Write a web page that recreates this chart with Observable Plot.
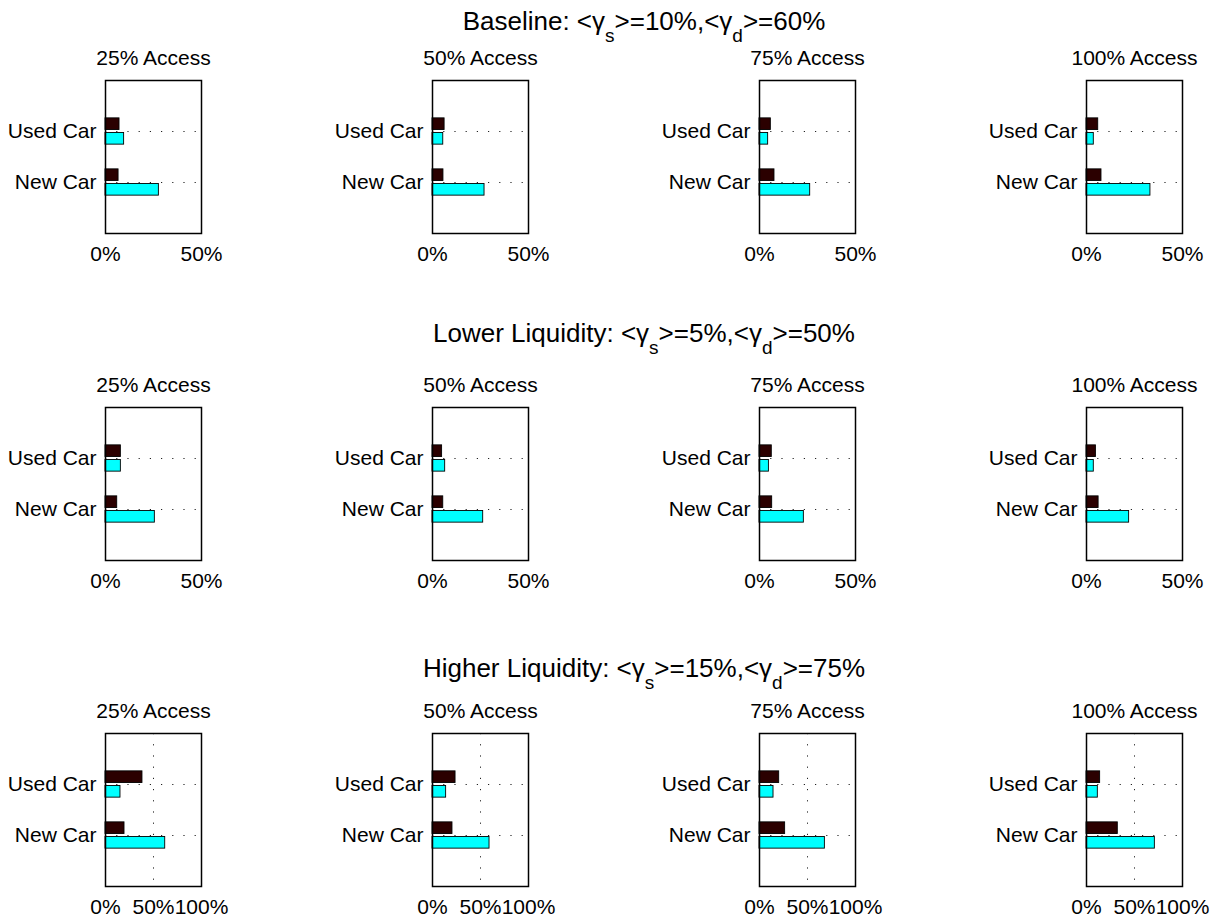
<!DOCTYPE html>
<html><head><meta charset="utf-8">
<script src="https://cdn.jsdelivr.net/npm/d3@7"></script>
<script src="https://cdn.jsdelivr.net/npm/@observablehq/plot@0.6"></script>
<style>
body{margin:0;background:#fff;font-family:"Liberation Sans",Arial,Helvetica,sans-serif;}
#root{position:relative;width:1215px;height:919px;overflow:hidden;background:#fff;}
.panel{position:absolute;}
.rowtitle{position:absolute;left:644px;transform:translateX(-50%);white-space:nowrap;font-size:26px;line-height:26px;color:#000;}
.rowtitle .sub{font-size:19px;position:relative;top:12px;}
</style></head>
<body><div id="root"></div>
<script>
// ---- data ----
const categories = ["New Car", "Used Car"];
const accessLabels = ["25% Access", "50% Access", "75% Access", "100% Access"];
const rowTitles = [
  "Baseline: &lt;γ<span class=sub>s</span>&gt;=10%,&lt;γ<span class=sub>d</span>&gt;=60%",
  "Lower Liquidity: &lt;γ<span class=sub>s</span>&gt;=5%,&lt;γ<span class=sub>d</span>&gt;=50%",
  "Higher Liquidity: &lt;γ<span class=sub>s</span>&gt;=15%,&lt;γ<span class=sub>d</span>&gt;=75%"
];
// values in percent, one entry per access level (25,50,75,100)
const baselineNewDark  = [6.8, 5.7, 7.8, 7.8];
const baselineNewCyan  = [27.8, 27.1, 26.4, 33.3];
const baselineUsedDark = [7.3, 6.3, 5.9, 6.1];
const baselineUsedCyan = [9.7, 5.6, 4.5, 3.8];
const lowerNewDark  = [6.1, 5.6, 6.6, 6.3];
const lowerNewCyan  = [25.7, 26.4, 23.1, 22.2];
const lowerUsedDark = [8.0, 5.0, 6.4, 4.9];
const lowerUsedCyan = [8.0, 6.6, 4.9, 3.8];
const higherNewDark  = [19.8, 20.8, 26.7, 32.6];
const higherNewCyan  = [62.2, 59.4, 68.1, 71.2];
const higherUsedDark = [38.5, 24.0, 20.5, 14.2];
const higherUsedCyan = [15.6, 14.2, 14.6, 11.8];
const xMaxByRow = [0.5, 0.5, 1.0];
const xTicksByRow = [[0, 0.5], [0, 0.5], [0, 0.5, 1]];
const xGridByRow = [[], [], [0.5]];

const rowsData = [
  {newDark: baselineNewDark, newCyan: baselineNewCyan, usedDark: baselineUsedDark, usedCyan: baselineUsedCyan},
  {newDark: lowerNewDark, newCyan: lowerNewCyan, usedDark: lowerUsedDark, usedCyan: lowerUsedCyan},
  {newDark: higherNewDark, newCyan: higherNewCyan, usedDark: higherUsedDark, usedCyan: higherUsedCyan}
];

// ---- layout ----
const boxLefts = [105, 432, 759, 1086];
const boxTops = [80, 407, 733];
const titleTops = [8, 320, 655];
const ML = 100, MR = 30, MT = 35, MB = 40, BW = 96, BH = 153;
const FONT = "Liberation Sans, Arial, Helvetica, sans-serif";
const darkColor = "#2b0000", cyanColor = "#00ffff";
const barH = 0.229, off = 0.143;
const pct = d3.format(".0%");

const root = document.getElementById("root");

rowTitles.forEach((t, r) => {
  const div = document.createElement("div");
  div.className = "rowtitle";
  div.style.top = titleTops[r] + "px";
  div.innerHTML = t;
  root.appendChild(div);
});

for (let r = 0; r < 3; r++) {
  for (let c = 0; c < 4; c++) {
    const rd = rowsData[r];
    const dark = [
      {cat: "New Car", v: rd.newDark[c] / 100},
      {cat: "Used Car", v: rd.usedDark[c] / 100}
    ];
    const cyan = [
      {cat: "New Car", v: rd.newCyan[c] / 100},
      {cat: "Used Car", v: rd.usedCyan[c] / 100}
    ];
    const pos = d => categories.indexOf(d.cat) + 1;
    const chart = Plot.plot({
      width: ML + BW + MR,
      height: MT + BH + MB,
      marginLeft: ML, marginRight: MR, marginTop: MT, marginBottom: MB,
      x: {domain: [0, xMaxByRow[r]]},
      y: {domain: [0, 3]},
      style: {fontFamily: FONT, fontSize: "21px", color: "#000", background: "transparent", overflow: "visible"},
      marks: [
        Plot.gridY([1, 2], {stroke: "#222", strokeOpacity: 1, strokeWidth: 1, strokeDasharray: "1.2,10"}),
        Plot.gridX(xGridByRow[r], {stroke: "#222", strokeOpacity: 1, strokeWidth: 1, strokeDasharray: "1.2,10"}),
        Plot.rect(cyan, {x1: d => 0, x2: "v", y1: d => pos(d) - off - barH / 2, y2: d => pos(d) - off + barH / 2, fill: cyanColor, stroke: "#000", strokeWidth: 0.9}),
        Plot.rect(dark, {x1: d => 0, x2: "v", y1: d => pos(d) + off - barH / 2, y2: d => pos(d) + off + barH / 2, fill: darkColor, stroke: "#000", strokeWidth: 0.9}),
        Plot.frame({stroke: "#000", strokeWidth: 1.5}),
        Plot.axisY([1, 2], {tickFormat: d => categories[d - 1], tickSize: 0, tickPadding: 9, fontSize: 21, label: null}),
        Plot.axisX(xTicksByRow[r], {tickFormat: pct, tickSize: 0, tickPadding: 13, fontSize: 21, label: null}),
        Plot.text([accessLabels[c]], {frameAnchor: "top", dy: -15.5, lineAnchor: "bottom", fontSize: 21, text: d => d, fill: "#000"})
      ]
    });
    chart.classList.add("panel");
    chart.style.left = (boxLefts[c] - ML) + "px";
    chart.style.top = (boxTops[r] - MT) + "px";
    root.appendChild(chart);
  }
}
</script>
</body></html>
